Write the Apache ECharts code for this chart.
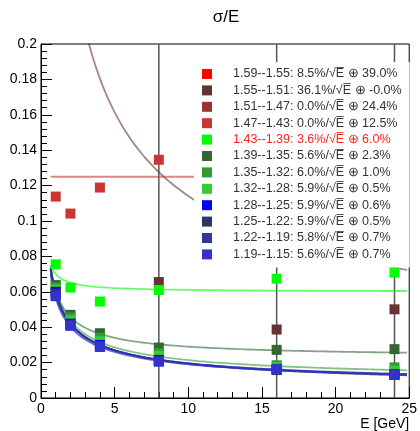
<!DOCTYPE html>
<html>
<head>
<meta charset="utf-8">
<script src="https://cdn.jsdelivr.net/npm/echarts@6/dist/echarts.min.js"></script>
<style>
  html, body { margin: 0; padding: 0; background: #fff; }
  #chart { width: 420px; height: 431px; }
</style>
</head>
<body>
<div id="chart"></div>
<script>
// Beam energies (GeV)
const energies = [1, 2, 4, 8, 16, 24];

// Eta bins and resolution fit parameters: stochastic (%/sqrt(E)) and constant (%)
const etaBins = ['1.59--1.55', '1.55--1.51', '1.51--1.47', '1.47--1.43', '1.43--1.39', '1.39--1.35',
                 '1.35--1.32', '1.32--1.28', '1.28--1.25', '1.25--1.22', '1.22--1.19', '1.19--1.15'];
const stochTerm = [8.5, 36.1, 0.0, 0.0, 3.6, 5.6, 6.0, 5.9, 5.9, 5.9, 5.8, 5.6];
const constTerm = ['39.0', '-0.0', '24.4', '12.5', '6.0', '2.3', '1.0', '0.5', '0.6', '0.5', '0.7', '0.7'];
const stochLabel = ['8.5', '36.1', '0.0', '0.0', '3.6', '5.6', '6.0', '5.9', '5.9', '5.9', '5.8', '5.6'];

// Measured sigma/E per eta bin (null = outside the shown range)
const res_159_155 = [null, null, null, null, null, null];
const res_155_151 = [null, null, null, 0.0655, 0.0387, 0.0501];
const res_151_147 = [null, null, null, null, null, null];
const res_147_143 = [0.1138, 0.1042, 0.1189, 0.1346, null, 0.1786];
const res_143_139 = [0.0755, 0.0624, 0.0545, 0.0610, 0.0674, 0.0708];
const res_139_135 = [0.0638, 0.0470, 0.0366, 0.0285, 0.0272, 0.0276];
const res_135_132 = [0.0625, 0.0455, 0.0340, 0.0255, 0.0185, 0.0173];
const res_132_128 = [0.0615, 0.0440, 0.0320, 0.0240, 0.0175, 0.0155];
const res_128_125 = [0.0600, 0.0420, 0.0300, 0.0215, 0.0160, 0.0135];
const res_125_122 = [0.0590, 0.0415, 0.0295, 0.0210, 0.0158, 0.0133];
const res_122_119 = [0.0580, 0.0410, 0.0290, 0.0208, 0.0165, 0.0130];
const res_119_115 = [0.0575, 0.0408, 0.0288, 0.0205, 0.0163, 0.0132];
const resolution = [res_159_155, res_155_151, res_151_147, res_147_143, res_143_139, res_139_135,
                    res_135_132, res_132_128, res_128_125, res_125_122, res_122_119, res_119_115];

// Vertical uncertainty on the 1.55--1.51 points
const err_155_151 = [null, null, null, 0.3, 0.3, 0.3];

// Tick labels
const xTicks = [0, 5, 10, 15, 20, 25];
const yTicks = [0, 0.02, 0.04, 0.06, 0.08, 0.1, 0.12, 0.14, 0.16, 0.18, 0.2];

const colors = ['#ff0000', '#663333', '#993333', '#cc3333', '#00ff00', '#336633',
                '#339933', '#33cc33', '#0000ff', '#333366', '#333399', '#3333cc'];

const FONT = 'Liberation Sans, Arial, Helvetica, sans-serif';

function label(i) {
  return etaBins[i] + ': ' + stochLabel[i] + '%/\u221AE\u0305 \u2295 ' + constTerm[i] + '%';
}

// Fit curve: sigma/E = a/sqrt(E) (+) b  (quadrature sum)
function fitCurve(i) {
  const a = stochTerm[i] / 100, b = parseFloat(constTerm[i]) / 100;
  const pts = [];
  const eMin = 0.65, eMax = 24.85, n = 240;
  for (let k = 0; k <= n; k++) {
    const e = eMin + (eMax - eMin) * k / n;
    pts.push([e, Math.sqrt(a * a / e + b * b)]);
  }
  return pts;
}

const series = [];
etaBins.forEach((bin, i) => {
  series.push({
    name: 'fit ' + bin,
    type: 'line',
    data: fitCurve(i),
    showSymbol: false,
    symbol: 'none',
    clip: true,
    z: 2,
    silent: true,
    lineStyle: { color: colors[i], width: 1.8, opacity: i >= 8 ? 0.75 : 0.6 }
  });
});

// Error bars of the 1.55--1.51 bin
series.push({
  name: 'err',
  type: 'custom',
  z: 1,
  silent: true,
  clip: true,
  data: energies.map((e, k) => [e, res_155_151[k], err_155_151[k]]).filter(d => d[1] != null),
  renderItem: function (params, api) {
    const x = api.value(0), y = api.value(1), er = api.value(2);
    const p1 = api.coord([x, y - er]);
    const p2 = api.coord([x, y + er]);
    const shape = echarts.graphic.clipPointsByRect([p1, p2], {
      x: params.coordSys.x, y: params.coordSys.y,
      width: params.coordSys.width, height: params.coordSys.height
    });
    if (!shape) return;
    return {
      type: 'line',
      shape: { x1: shape[0][0], y1: shape[0][1], x2: shape[1][0], y2: shape[1][1] },
      style: { stroke: '#555', lineWidth: 1.5 }
    };
  }
});

etaBins.forEach((bin, i) => {
  series.push({
    name: label(i),
    type: 'scatter',
    symbol: 'rect',
    symbolSize: 10,
    z: 3,
    clip: true,
    itemStyle: { color: colors[i], opacity: 1 },
    data: energies.map((e, k) => [e, resolution[i][k]]).filter(d => d[1] != null)
  });
});

const chart = echarts.init(document.getElementById('chart'));
chart.setOption({
  animation: false,
  backgroundColor: '#fff',
  grid: { left: 41, right: 8, top: 44, bottom: 32, show: true, borderColor: '#000', borderWidth: 1, backgroundColor: 'transparent' },
  graphic: [{
    type: 'text', x: 226, y: 17,
    style: { text: '\u03C3/E', font: '17px ' + FONT, fill: '#000', align: 'center', verticalAlign: 'middle' }
  }],
  xAxis: {
    type: 'value', min: xTicks[0], max: xTicks[xTicks.length - 1], interval: 5,
    name: 'E [GeV]', nameLocation: 'end', nameGap: 0,
    nameTextStyle: { fontFamily: FONT, fontSize: 14, color: '#000', align: 'right', verticalAlign: 'top', padding: [19, 0, 0, 0] },
    axisLine: { onZero: false, lineStyle: { color: '#000', width: 1 } },
    axisTick: { inside: true, length: 11, lineStyle: { color: '#000' } },
    minorTick: { show: true, splitNumber: 5, length: 6, lineStyle: { color: '#000' } },
    splitLine: { show: false },
    axisLabel: { fontFamily: FONT, fontSize: 14, color: '#000', margin: 4,
      formatter: v => String(v) }
  },
  yAxis: {
    type: 'value', min: yTicks[0], max: yTicks[yTicks.length - 1], interval: 0.02,
    axisLine: { onZero: false, lineStyle: { color: '#000', width: 1 } },
    axisTick: { inside: true, length: 11, lineStyle: { color: '#000' } },
    minorTick: { show: true, splitNumber: 5, length: 6, lineStyle: { color: '#000' } },
    splitLine: { show: false },
    axisLabel: { fontFamily: FONT, fontSize: 14, color: '#000', margin: 4,
      formatter: v => String(parseFloat(v.toFixed(2))) }
  },
  legend: {
    orient: 'vertical',
    left: 194, top: 62,
    padding: [5, 8, 6, 8],
    backgroundColor: '#fff',
    itemWidth: 10, itemHeight: 10, itemGap: 2.4,
    selectedMode: false,
    textStyle: { fontFamily: FONT, fontSize: 12.5, color: '#333', lineHeight: 14, padding: [0, 0, 0, 16] },
    data: etaBins.map((b, i) => ({
      name: label(i), icon: 'rect', itemStyle: { color: colors[i] },
      textStyle: i === 4 ? { color: '#ff2222' } : undefined
    }))
  },
  series: series
});
</script>
</body>
</html>
